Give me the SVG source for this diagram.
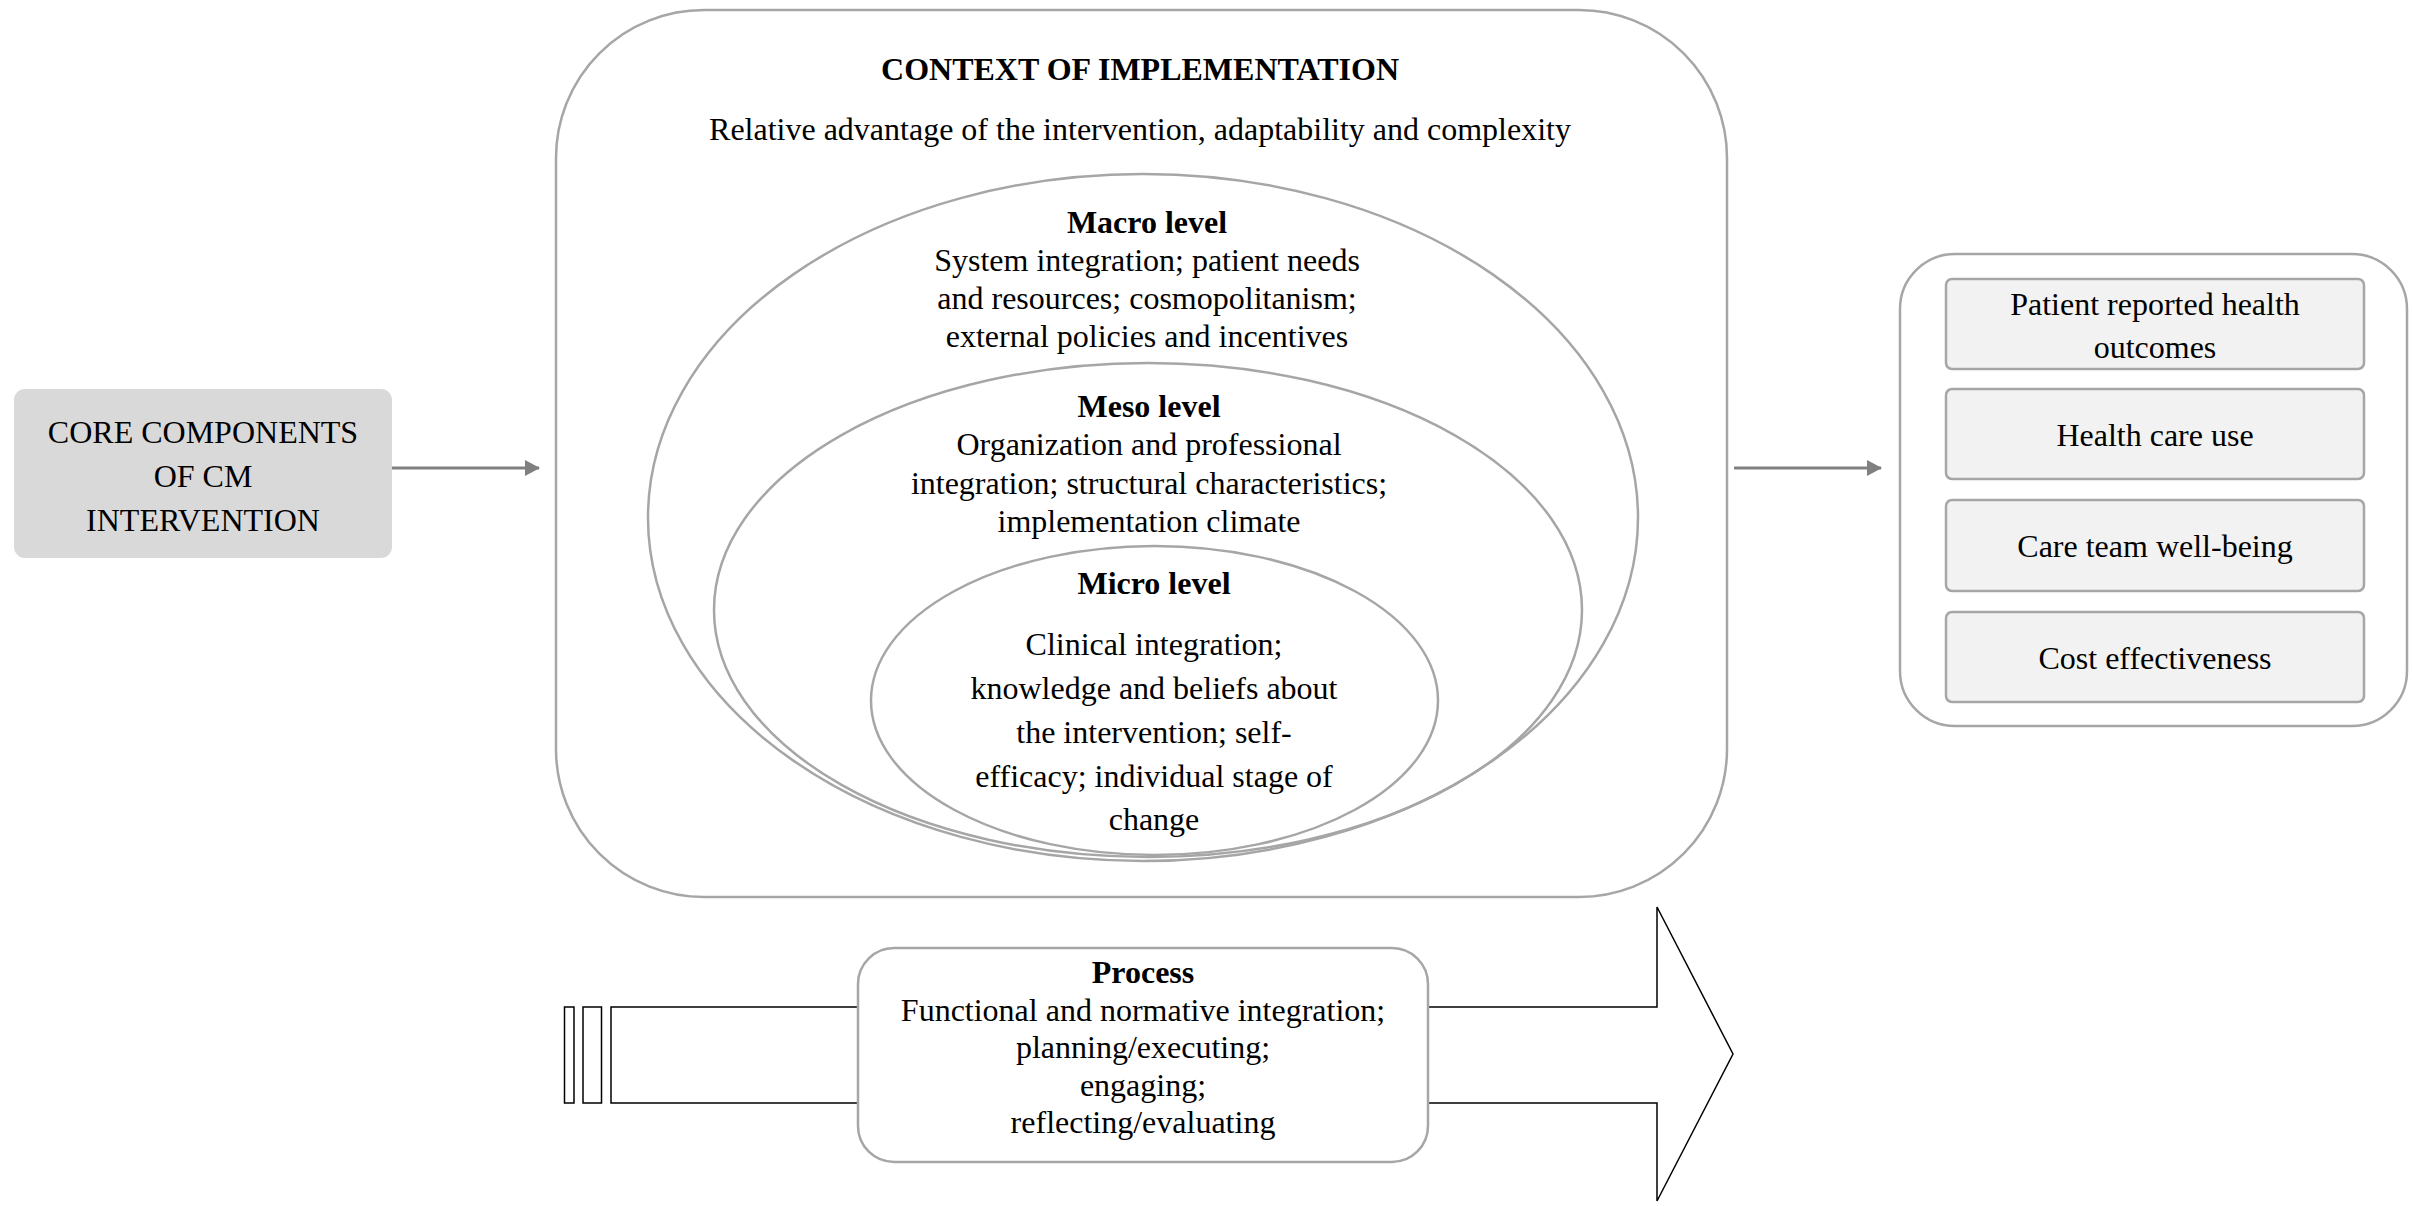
<svg xmlns="http://www.w3.org/2000/svg" width="2412" height="1206" viewBox="0 0 2412 1206">
<defs>
<style>
text{font-family:"Liberation Serif","Times New Roman",serif;font-size:32px;fill:#000;text-anchor:middle}
.b{font-weight:bold}
.g{fill:none;stroke:#a6a6a6;stroke-width:2.5}
.w{fill:#fff;stroke:#a6a6a6;stroke-width:2.5}
.ob{fill:#f2f2f2;stroke:#a6a6a6;stroke-width:2.5}
.conn{stroke:#808080;stroke-width:3;fill:none}
</style>
<marker id="ah" markerWidth="16" markerHeight="16" refX="14" refY="8" orient="auto" markerUnits="userSpaceOnUse">
<path d="M0,0 L15,8 L0,16 Z" fill="#808080"/>
</marker>
</defs>
<rect width="2412" height="1206" fill="#fff"/>

<g id="core">
<rect x="14" y="389" width="378" height="169" rx="11" fill="#d9d9d9"/>
<text x="203" y="443">CORE COMPONENTS</text>
<text x="203" y="487">OF CM</text>
<text x="203" y="531">INTERVENTION</text>
</g>

<g id="context">
<rect class="w" x="556" y="10" width="1171" height="887" rx="148" ry="148"/>
<text class="b" x="1140" y="80">CONTEXT OF IMPLEMENTATION</text>
<text x="1140" y="140">Relative advantage of the intervention, adaptability and complexity</text>
</g>

<g id="macro">
<ellipse class="g" cx="1143" cy="517.5" rx="495" ry="343.5"/>
<text class="b" x="1147" y="233">Macro level</text>
<text x="1147" y="271">System integration; patient needs</text>
<text x="1147" y="309">and resources; cosmopolitanism;</text>
<text x="1147" y="347">external policies and incentives</text>
</g>

<g id="meso">
<ellipse class="g" cx="1148" cy="610" rx="434" ry="247"/>
<text class="b" x="1149" y="417">Meso level</text>
<text x="1149" y="455">Organization and professional</text>
<text x="1149" y="494">integration; structural characteristics;</text>
<text x="1149" y="532">implementation climate</text>
</g>

<g id="micro">
<ellipse class="g" cx="1154.5" cy="700.5" rx="283.5" ry="154.5"/>
<text class="b" x="1154" y="594">Micro level</text>
<text x="1154" y="655">Clinical integration;</text>
<text x="1154" y="699">knowledge and beliefs about</text>
<text x="1154" y="743">the intervention; self-</text>
<text x="1154" y="787">efficacy; individual stage of</text>
<text x="1154" y="830">change</text>
</g>

<g id="outcomes">
<rect class="w" x="1900" y="254" width="507" height="472" rx="55"/>
<g id="o1"><rect class="ob" x="1946" y="279" width="418" height="90" rx="6"/>
<text x="2155" y="315">Patient reported health</text>
<text x="2155" y="358">outcomes</text></g>
<g id="o2"><rect class="ob" x="1946" y="389" width="418" height="90" rx="6"/>
<text x="2155" y="446">Health care use</text></g>
<g id="o3"><rect class="ob" x="1946" y="500" width="418" height="91" rx="6"/>
<text x="2155" y="557">Care team well-being</text></g>
<g id="o4"><rect class="ob" x="1946" y="612" width="418" height="90" rx="6"/>
<text x="2155" y="669">Cost effectiveness</text></g>
</g>

<g id="process-arrow">
<rect x="564.5" y="1007" width="9.5" height="96" fill="#fff" stroke="#000" stroke-width="1.5"/>
<rect x="583" y="1007" width="18.5" height="96" fill="#fff" stroke="#000" stroke-width="1.5"/>
<polygon points="611,1007 1657,1007 1657,907 1733,1054 1657,1201 1657,1103 611,1103" fill="#fff" stroke="#000" stroke-width="1.5"/>
</g>

<g id="process">
<rect class="w" x="858" y="948" width="570" height="214" rx="36"/>
<text class="b" x="1143" y="983">Process</text>
<text x="1143" y="1021">Functional and normative integration;</text>
<text x="1143" y="1058">planning/executing;</text>
<text x="1143" y="1096">engaging;</text>
<text x="1143" y="1133">reflecting/evaluating</text>
</g>

<g id="connectors">
<line class="conn" x1="392" y1="468" x2="539" y2="468" marker-end="url(#ah)"/>
<line class="conn" x1="1734" y1="468" x2="1881" y2="468" marker-end="url(#ah)"/>
</g>
</svg>
